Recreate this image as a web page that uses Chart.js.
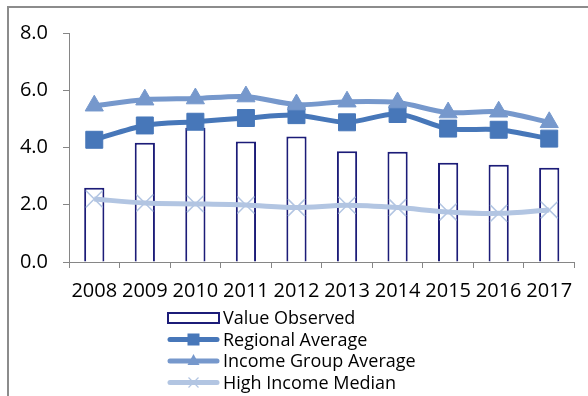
<!DOCTYPE html>
<html>
<head>
<meta charset="utf-8">
<script src="https://cdn.jsdelivr.net/npm/chart.js@4.4.1/dist/chart.umd.min.js"></script>
<style>
  html, body { margin: 0; padding: 0; background: #fff; }
  #wrap { position: relative; width: 588px; height: 396px; overflow: hidden; }
  #frame { position: absolute; left: 7px; top: 6px; right: -4px; bottom: -4px;
           border-left: 2px solid #8c8c8c; border-top: 2px solid #8c8c8c; }
  #chart { position: absolute; left: 0; top: 0; }
</style>
</head>
<body>
<div id="wrap">
  <div id="frame"></div>
  <canvas id="chart" width="588" height="396"></canvas>
</div>
<script>
// data
const years = ['2008', '2009', '2010', '2011', '2012', '2013', '2014', '2015', '2016', '2017'];
const valueObserved = [2.59, 4.17, 4.69, 4.21, 4.38, 3.87, 3.85, 3.47, 3.40, 3.29];
const regionalAverage = [4.27, 4.77, 4.9, 5.03, 5.13, 4.88, 5.17, 4.66, 4.62, 4.31];
const incomeGroupAverage = [5.46, 5.67, 5.71, 5.78, 5.5, 5.6, 5.57, 5.22, 5.25, 4.88];
const highIncomeMedian = [2.2, 2.06, 2.03, 1.99, 1.9, 1.98, 1.9, 1.75, 1.7, 1.82];

const seriesNames = ['Value Observed', 'Regional Average', 'Income Group Average', 'High Income Median'];

const NAVY = '#1c1c78';
const C_REG = '#4777b9';
const C_INC = '#7698cc';
const C_HIGH = '#b2c5e2';
const AXIS = '#868686';
const FONT = '"Open Sans", sans-serif';

// legend drawn as a vertical list under the axis
const sideLegend = {
  id: 'sideLegend',
  afterDraw(chart) {
    const ctx = chart.ctx;
    const x0 = 168, x1 = 219, tx = 223;
    const rows = [318, 339.5, 361, 382.5];
    ctx.save();
    ctx.font = '18px ' + FONT;
    ctx.textBaseline = 'middle';
    ctx.fillStyle = '#000';
    rows.forEach((y, i) => {
      if (i === 0) {
        ctx.strokeStyle = NAVY;
        ctx.lineWidth = 2;
        ctx.fillStyle = '#fff';
        ctx.fillRect(x0, y - 5, x1 - x0, 10);
        ctx.strokeRect(x0, y - 5, x1 - x0, 10);
      } else {
        const col = [null, C_REG, C_INC, C_HIGH][i];
        ctx.strokeStyle = col;
        ctx.lineWidth = 5;
        ctx.lineCap = 'round';
        ctx.beginPath();
        ctx.moveTo(x0 + 2, y);
        ctx.lineTo(x1 - 2, y);
        ctx.stroke();
        const cx = (x0 + x1) / 2;
        ctx.fillStyle = col;
        if (i === 1) {
          ctx.fillRect(cx - 6, y - 6, 12, 12);
        } else if (i === 2) {
          ctx.beginPath();
          ctx.moveTo(cx, y - 7);
          ctx.lineTo(cx + 6, y + 4);
          ctx.lineTo(cx - 6, y + 4);
          ctx.closePath();
          ctx.fill();
        } else {
          ctx.lineWidth = 1.2;
          ctx.lineCap = 'butt';
          ctx.beginPath();
          ctx.moveTo(cx - 5, y - 5); ctx.lineTo(cx + 5, y + 5);
          ctx.moveTo(cx + 5, y - 5); ctx.lineTo(cx - 5, y + 5);
          ctx.stroke();
        }
      }
      ctx.fillStyle = '#000';
      ctx.fillText(seriesNames[i], tx, y + 1);
    });
    ctx.restore();
  }
};

new Chart(document.getElementById('chart'), {
  data: {
    labels: years,
    datasets: [
      {
        type: 'bar',
        label: seriesNames[0],
        data: valueObserved,
        backgroundColor: '#fff',
        borderColor: NAVY,
        borderWidth: 2,
        barPercentage: 0.4,
        categoryPercentage: 1,
        order: 4
      },
      {
        type: 'line',
        label: seriesNames[1],
        data: regionalAverage,
        borderColor: C_REG,
        backgroundColor: C_REG,
        borderWidth: 5,
        tension: 0.3,
        pointStyle: 'rect',
        pointRadius: 12,
        pointBorderWidth: 1,
        order: 3
      },
      {
        type: 'line',
        label: seriesNames[2],
        data: incomeGroupAverage,
        borderColor: C_INC,
        backgroundColor: C_INC,
        borderWidth: 5,
        tension: 0.3,
        pointStyle: 'triangle',
        pointRadius: 10.5,
        pointBorderWidth: 1,
        order: 2
      },
      {
        type: 'line',
        label: seriesNames[3],
        data: highIncomeMedian,
        borderColor: C_HIGH,
        backgroundColor: C_HIGH,
        borderWidth: 5,
        tension: 0.3,
        pointStyle: 'crossRot',
        pointRadius: 12,
        pointBorderWidth: 1.5,
        order: 1
      }
    ]
  },
  options: {
    responsive: false,
    animation: false,
    layout: { padding: { left: 0, top: 33, right: 12, bottom: 0 } },
    plugins: {
      legend: { display: false },
      tooltip: { enabled: false }
    },
    scales: {
      x: {
        offset: true,
        grid: { display: true, drawOnChartArea: false, drawTicks: true, tickLength: 6, color: AXIS, offset: true },
        border: { display: true, color: AXIS, width: 1 },
        ticks: { color: '#000', font: { family: FONT, size: 20 }, padding: 11, autoSkip: false, maxRotation: 0, minRotation: 0 },
        afterFit(scale) { scale.height = 134; }
      },
      y: {
        min: 0,
        max: 8,
        grid: { display: true, drawOnChartArea: false, drawTicks: true, tickLength: 6, color: AXIS },
        border: { display: true, color: AXIS, width: 1 },
        ticks: {
          stepSize: 2,
          color: '#000',
          font: { family: FONT, size: 20 },
          padding: 15,
          callback: v => v.toFixed(1)
        },
        afterFit(scale) { scale.width = 69; }
      }
    }
  },
  plugins: [sideLegend]
});
</script>
</body>
</html>
